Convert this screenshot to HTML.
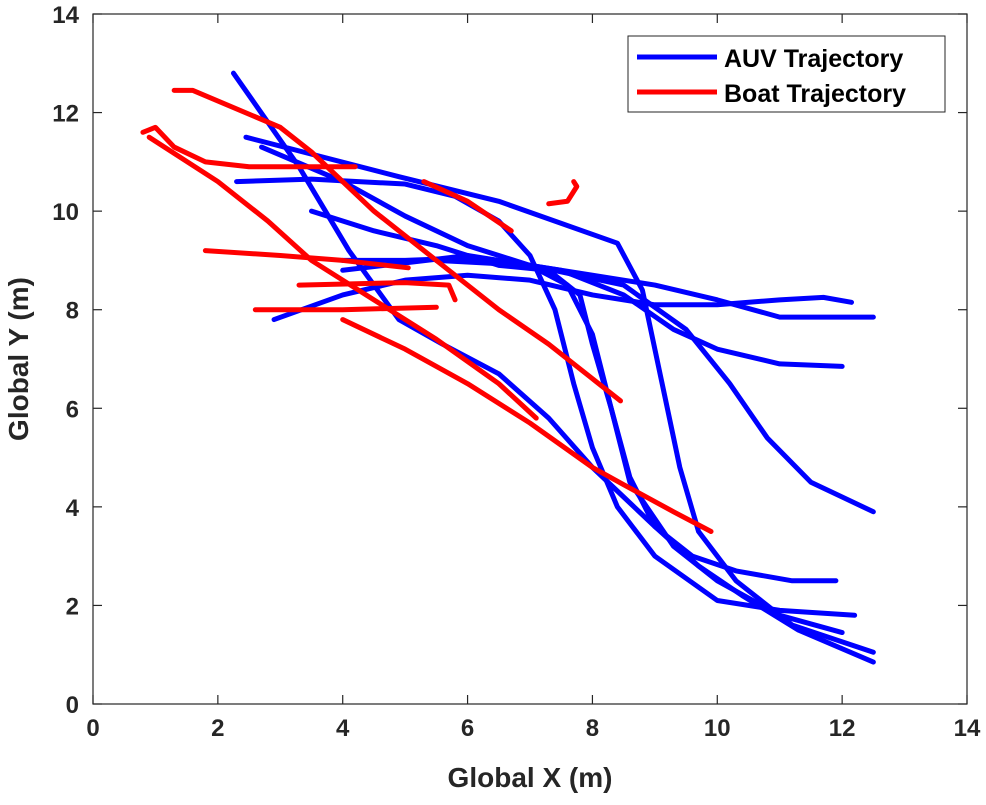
<!DOCTYPE html>
<html><head><meta charset="utf-8"><style>
body{margin:0;background:#fff;}
svg text{font-family:"Liberation Sans",sans-serif;font-weight:bold;}
</style></head><body>
<svg id="chart" width="986" height="800" xmlns="http://www.w3.org/2000/svg">
<g id="plot"></g>
<g id="axes"></g>
<text x="530" y="787" text-anchor="middle" font-size="28" fill="#262626">Global X (m)</text>
<text transform="translate(28,359) rotate(-90)" text-anchor="middle" font-size="28" fill="#262626">Global Y (m)</text>
<g>
<rect x="628" y="36" width="317" height="76" fill="#fff" stroke="#262626" stroke-width="1"/>
<line x1="637" y1="57" x2="717" y2="57" stroke="#0000ff" stroke-width="5"/>
<text x="724" y="67" font-size="25" fill="#000">AUV Trajectory</text>
<line x1="637" y1="92" x2="717" y2="92" stroke="#ff0000" stroke-width="5"/>
<text x="724" y="102" font-size="25" fill="#000">Boat Trajectory</text>
</g>
</svg>
<script>
const xTicks=[0,2,4,6,8,10,12,14];
const yTicks=[0,2,4,6,8,10,12,14];
const auvTrajectories=[
[[2.25,12.8],[3.3,10.9],[4.1,9.2],[4.9,7.8],[5.6,7.3],[6.5,6.7],[7.3,5.8],[8.0,4.8],[8.5,4.2],[9.0,3.6],[9.7,2.8],[10.4,2.2],[11.3,1.5],[12.5,0.85]],
[[2.45,11.5],[4.9,10.7],[6.5,10.2],[8.4,9.35],[8.8,8.4],[9.1,6.6],[9.4,4.8],[9.7,3.5],[10.3,2.5],[11.2,1.6],[12.5,1.05]],
[[2.3,10.6],[3.5,10.65],[5.0,10.55],[5.8,10.3],[6.5,9.8],[7.0,9.1],[7.4,8.0],[7.7,6.5],[8.0,5.2],[8.4,4.0],[9.0,3.0],[10.0,2.1],[11.0,1.9],[12.2,1.8]],
[[2.7,11.3],[4.0,10.6],[5.0,9.9],[6.0,9.3],[7.0,8.9],[7.6,8.5],[8.0,7.5],[8.3,6.0],[8.6,4.6],[9.0,3.6],[9.6,3.0],[10.3,2.7],[11.2,2.5],[11.9,2.5]],
[[3.5,10.0],[4.5,9.6],[5.5,9.3],[6.5,8.9],[7.3,8.8],[7.8,8.3],[8.0,7.3],[8.3,6.0],[8.6,4.5],[9.3,3.2],[10.0,2.5],[11.0,1.8],[12.0,1.45]],
[[2.9,7.8],[4.0,8.3],[5.0,8.6],[6.0,8.7],[7.0,8.6],[8.0,8.3],[9.0,8.1],[10.0,8.1],[11.0,8.2],[11.7,8.25],[12.15,8.15]],
[[4.0,9.0],[5.0,9.0],[6.0,9.05],[7.0,8.9],[8.0,8.7],[9.0,8.5],[10.0,8.2],[11.0,7.85],[11.8,7.85],[12.5,7.85]],
[[4.0,8.8],[6.0,9.1],[7.5,8.8],[8.5,8.3],[9.3,7.6],[10.0,7.2],[11.0,6.9],[12.0,6.85]],
[[5.5,9.0],[7.0,8.9],[8.5,8.5],[9.5,7.6],[10.2,6.5],[10.8,5.4],[11.5,4.5],[12.0,4.2],[12.5,3.9]]
];
const boatTrajectories=[
[[1.3,12.45],[1.6,12.45],[3.0,11.7],[3.5,11.2],[4.5,10.0],[5.5,9.0],[6.5,8.0],[7.3,7.3],[8.0,6.6],[8.45,6.15]],
[[0.8,11.6],[1.0,11.7],[1.3,11.3],[1.8,11.0],[2.5,10.9],[4.2,10.9]],
[[0.9,11.5],[2.0,10.6],[2.8,9.8],[3.5,9.0],[4.5,8.2],[5.5,7.4],[6.5,6.5],[7.1,5.8]],
[[4.0,7.8],[5.0,7.2],[6.0,6.5],[7.0,5.7],[8.0,4.8],[8.5,4.45],[9.3,3.9],[9.9,3.5]],
[[1.8,9.2],[3.0,9.1],[4.0,9.0],[5.05,8.85]],
[[2.6,8.0],[4.0,8.0],[5.5,8.05]],
[[3.3,8.5],[5.0,8.55],[5.7,8.5],[5.8,8.2]],
[[5.3,10.6],[6.0,10.2],[6.7,9.6]],
[[7.3,10.15],[7.6,10.2],[7.75,10.5],[7.7,10.6]]
];
const X0=93,X1=967,Y0=704,Y1=14,XMAX=14,YMAX=14;
function sx(v){return X0+(X1-X0)*v/XMAX;}
function sy(v){return Y0-(Y0-Y1)*v/YMAX;}
const NS='http://www.w3.org/2000/svg';
const plot=document.getElementById('plot'),axes=document.getElementById('axes');
function mk(t,a,p){const e=document.createElementNS(NS,t);for(const k in a)e.setAttribute(k,a[k]);p.appendChild(e);return e;}
function drawSet(set,color,name){
 set.forEach((tr,i)=>{
  const e=mk('polyline',{points:tr.map(p=>sx(p[0])+','+sy(p[1])).join(' '),fill:'none',stroke:color,'stroke-width':5,'stroke-linejoin':'round','stroke-linecap':'round'},plot);
  
  
 });
}
drawSet(auvTrajectories,'#0000ff','auv-trajectory');
drawSet(boatTrajectories,'#ff0000','boat-trajectory');
const box=mk('rect',{x:X0,y:Y1,width:X1-X0,height:Y0-Y1,fill:'none',stroke:'#262626','stroke-width':1.2},axes);


xTicks.forEach(v=>{
 mk('line',{x1:sx(v),x2:sx(v),y1:Y0,y2:Y0-9,stroke:'#262626','stroke-width':1.2},axes);
 mk('line',{x1:sx(v),x2:sx(v),y1:Y1,y2:Y1+9,stroke:'#262626','stroke-width':1.2},axes);
 const t=mk('text',{x:sx(v),y:Y0+32,'text-anchor':'middle','font-size':24,fill:'#262626'},axes);
 t.textContent=v;
 
 
});
yTicks.forEach(v=>{
 mk('line',{x1:X0,x2:X0+9,y1:sy(v),y2:sy(v),stroke:'#262626','stroke-width':1.2},axes);
 mk('line',{x1:X1,x2:X1-9,y1:sy(v),y2:sy(v),stroke:'#262626','stroke-width':1.2},axes);
 const t=mk('text',{x:X0-14,y:sy(v)+9,'text-anchor':'end','font-size':24,fill:'#262626'},axes);
 t.textContent=v;
 
 
});
</script>
</body></html>
